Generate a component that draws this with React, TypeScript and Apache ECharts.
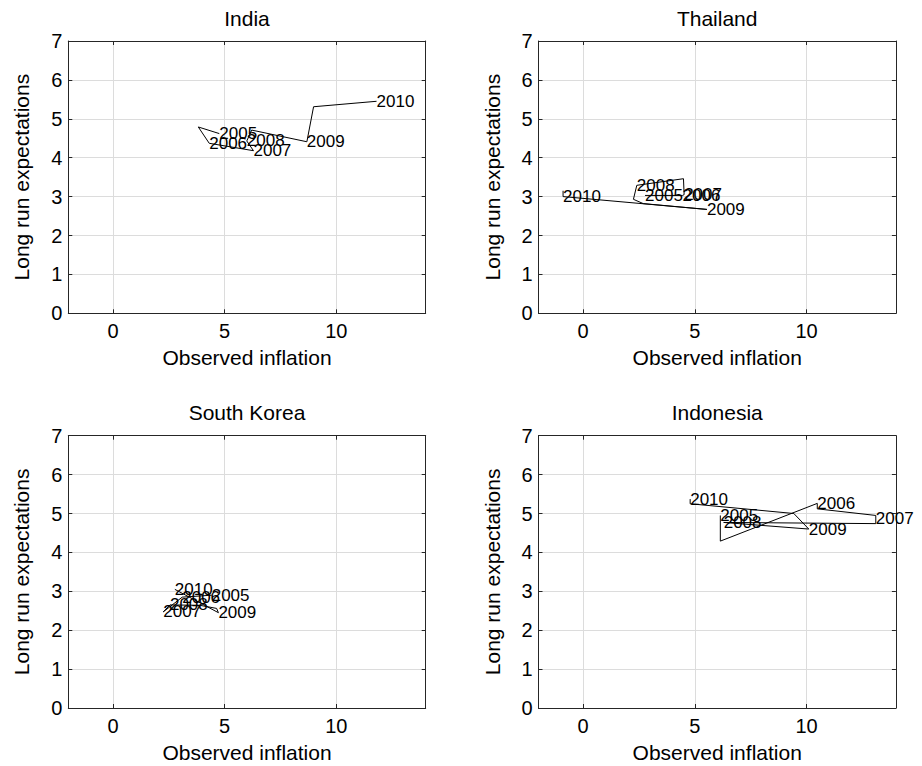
import React, { useEffect, useRef } from "react";
import * as echarts from "echarts";

const countries = ["India", "Thailand", "South Korea", "Indonesia"];
const xTickValues = [0, 5, 10];
const xMin = -2;
const xMax = 14;
const yMin = 0;
const yMax = 7;
const xAxisTitle = "Observed inflation";
const yAxisTitle = "Long run expectations";

// India
const indiaX = [4.76, 3.82, 4.31, 6.29, 5.99, 6.21, 8.68, 8.98, 11.8];
const indiaY = [4.62, 4.79, 4.37, 4.18, 4.43, 4.71, 4.41, 5.31, 5.45];
const indiaLabels = ["2005", "", "2006", "2007", "2008", "", "2009", "", "2010"];

// Thailand
const thailandX = [2.77, 4.45, 4.52, 4.49, 2.4, 2.25, 2.69, 5.54, -0.9, -0.9];
const thailandY = [3.03, 3.03, 3.05, 3.46, 3.29, 2.93, 2.82, 2.67, 3.0, 3.15];
const thailandLabels = ["2005", "2006", "2007", "", "2008", "", "", "2009", "2010", ""];

// South Korea
const koreaX = [4.42, 3.1, 2.25, 2.55, 3.89, 4.64, 4.72, 2.77];
const koreaY = [2.9, 2.85, 2.47, 2.65, 2.64, 2.56, 2.45, 3.05];
const koreaLabels = ["2005", "2006", "2007", "2008", "", "", "2009", "2010"];

// Indonesia
const indonesiaX = [6.14, 6.14, 10.48, 10.48, 13.1, 13.1, 13.1, 6.29, 10.1, 9.43, 4.79, 4.79];
const indonesiaY = [4.95, 4.29, 5.26, 5.12, 4.95, 4.86, 4.74, 4.77, 4.6, 5.0, 5.25, 5.37];
const indonesiaLabels = ["2005", "", "2006", "", "", "2007", "", "2008", "2009", "", "", "2010"];

const seriesX = [indiaX, thailandX, koreaX, indonesiaX];
const seriesY = [indiaY, thailandY, koreaY, indonesiaY];
const seriesLabels = [indiaLabels, thailandLabels, koreaLabels, indonesiaLabels];

const FONT = "'Liberation Sans', Arial, Helvetica, sans-serif";
const AXIS_COLOR = "#262626";
const GRID_COLOR = "#dcdcdc";

export default function App() {
  const ref = useRef<HTMLDivElement>(null);

  useEffect(() => {
    if (!ref.current) return;
    const chart = echarts.init(ref.current, null, { renderer: "svg" });

    const lefts = [68.3, 538.5, 68.3, 538.5];
    const tops = [41, 41, 435.7, 435.7];
    const W = 357.4;
    const H = 272.3;

    const grid = countries.map((_, i) => ({
      left: lefts[i],
      top: tops[i],
      width: W,
      height: H,
      containLabel: false,
    }));

    const lineCommon = { show: true, onZero: false, lineStyle: { color: AXIS_COLOR, width: 1 } };

    const xAxis: any[] = [];
    const yAxis: any[] = [];
    countries.forEach((_, i) => {
      xAxis.push({
        type: "value",
        gridIndex: i,
        position: "bottom",
        min: xMin,
        max: xMax,
        axisLine: lineCommon,
        axisTick: { show: true, inside: true, length: 4, customValues: xTickValues, lineStyle: { color: AXIS_COLOR } },
        axisLabel: { show: true, customValues: xTickValues, fontSize: 20, color: "#000", margin: 8, fontFamily: FONT },
        splitLine: { show: true, lineStyle: { color: GRID_COLOR, width: 1 } },
        name: xAxisTitle,
        nameLocation: "middle",
        nameGap: 34,
        nameTextStyle: { fontSize: 21, color: "#000", fontFamily: FONT },
      });
      xAxis.push({
        type: "value",
        gridIndex: i,
        position: "top",
        min: xMin,
        max: xMax,
        axisLine: lineCommon,
        axisTick: { show: true, inside: true, length: 4, customValues: xTickValues, lineStyle: { color: AXIS_COLOR } },
        axisLabel: { show: false, customValues: xTickValues },
        splitLine: { show: false },
      });
      yAxis.push({
        type: "value",
        gridIndex: i,
        position: "left",
        min: yMin,
        max: yMax,
        interval: 1,
        axisLine: lineCommon,
        axisTick: { show: true, inside: true, length: 4, lineStyle: { color: AXIS_COLOR } },
        axisLabel: { show: true, fontSize: 20, color: "#000", margin: 6, fontFamily: FONT },
        splitLine: { show: true, lineStyle: { color: GRID_COLOR, width: 1 } },
        name: yAxisTitle,
        nameLocation: "middle",
        nameGap: 36,
        nameRotate: 90,
        nameTextStyle: { fontSize: 21, color: "#000", fontFamily: FONT },
      });
      yAxis.push({
        type: "value",
        gridIndex: i,
        position: "right",
        min: yMin,
        max: yMax,
        interval: 1,
        axisLine: lineCommon,
        axisTick: { show: true, inside: true, length: 4, lineStyle: { color: AXIS_COLOR } },
        axisLabel: { show: false },
        splitLine: { show: false },
      });
    });

    const series: any[] = [];
    countries.forEach((name, i) => {
      const xs = seriesX[i];
      const ys = seriesY[i];
      const labs = seriesLabels[i];
      series.push({
        type: "line",
        name: name,
        xAxisIndex: 2 * i,
        yAxisIndex: 2 * i,
        data: xs.map((x, k) => [x, ys[k]]),
        symbol: "none",
        showSymbol: false,
        lineStyle: { color: "#000", width: 1 },
        silent: true,
        z: 3,
      });
      series.push({
        type: "scatter",
        name: name + " labels",
        xAxisIndex: 2 * i,
        yAxisIndex: 2 * i,
        data: xs
          .map((x, k) => [x, ys[k], labs[k]])
          .filter((d) => d[2] !== ""),
        symbolSize: 0,
        itemStyle: { color: "#000", opacity: 1 },
        label: {
          show: true,
          position: "right",
          distance: 0,
          formatter: (p: any) => p.data[2],
          fontSize: 17,
          color: "#000",
          opacity: 1,
          fontFamily: FONT,
        },
        silent: true,
        z: 4,
      });
    });

    const graphic = countries.map((name, i) => ({
      type: "text",
      x: lefts[i] + W / 2,
      y: tops[i] - 23,
      style: {
        text: name,
        fontSize: 21,
        fill: "#000",
        fontFamily: FONT,
        textAlign: "center",
        textVerticalAlign: "middle",
      },
    }));

    chart.setOption({
      animation: false,
      backgroundColor: "#fff",
      textStyle: { fontFamily: FONT },
      grid,
      xAxis,
      yAxis,
      series,
      graphic,
    });

    return () => chart.dispose();
  }, []);

  return (
    <div
      ref={ref}
      style={{ position: "absolute", left: 0, top: 0, width: 922, height: 766, background: "#fff" }}
    />
  );
}
